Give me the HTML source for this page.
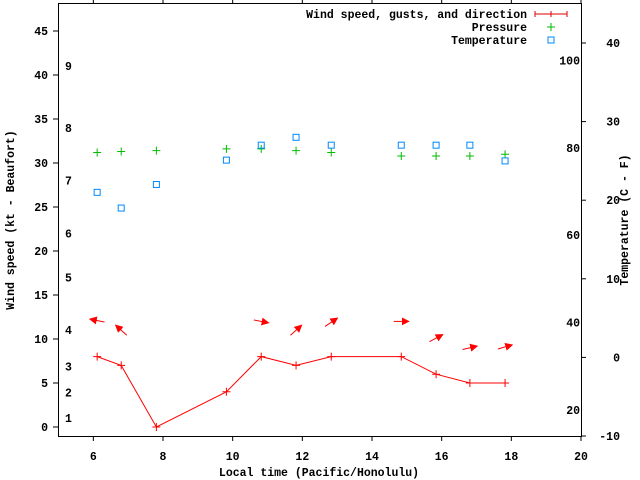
<!DOCTYPE html>
<html><head><meta charset="utf-8"><style>
html,body{margin:0;padding:0;background:#fff}
svg{display:block;font-family:"Liberation Mono",monospace;font-size:11.5px;font-weight:bold}
</style></head><body>
<svg id="chart" width="640" height="480">
<defs><marker id="ah" markerWidth="8" markerHeight="8" refX="7" refY="4" orient="auto" markerUnits="userSpaceOnUse"><path d="M0,0 L8,4 L0,8 Z" fill="#f00"/></marker></defs>
<rect x="58.5" y="3.5" width="523" height="433" fill="none" stroke="#000"/>
<g id="axes"></g>
<g id="marks"></g>
<text x="14" y="220" text-anchor="middle" transform="rotate(-90 14 220)">Wind speed (kt - Beaufort)</text>
<text x="628" y="220" text-anchor="middle" transform="rotate(-90 628 220)">Temperature (C - F)</text>
<text x="319" y="476" text-anchor="middle">Local time (Pacific/Honolulu)</text>
<g>
<text x="527" y="18" text-anchor="end">Wind speed, gusts, and direction</text>
<path d="M535,14 H567 M535,11 V17 M567,11 V17 M551,11 V17" stroke="#d00"/>
<text x="527" y="31" text-anchor="end">Pressure</text>
<path d="M547,27 H555 M551,23 V31" stroke="#0b0"/>
<text x="527" y="44" text-anchor="end">Temperature</text>
<rect x="548" y="37" width="6" height="6" fill="none" stroke="#08f"/>
</g>
</svg>
<script>
const times=[6.11,6.80,7.81,9.82,10.82,11.82,12.83,14.84,15.84,16.81,17.82];
const wind=[8,7,0,4,8,7,8,8,6,5,5];
const gusts=[12.1,11.0,null,null,12.0,11.0,11.9,12.0,10.1,9.0,9.1];
const direction=[169,138,null,null,-11,42,34,0,28,13,16];
const pressure=[31.2,31.3,31.4,31.6,31.6,31.4,31.2,30.8,30.8,30.8,31.0];
const temperature=[21.0,19.0,22.0,25.1,27.0,28.0,27.0,27.0,27.0,27.0,25.0];
const xTicks=[6,8,10,12,14,16,18,20];
const yTicks=[0,5,10,15,20,25,30,35,40,45];
const y2Ticks=[-10,0,10,20,30,40];
const beaufort=[[1,1],[2,3.9],[3,6.9],[4,11],[5,17],[6,22],[7,28],[8,34],[9,41]];
const fahr=[20,40,60,80,100];
const NS="http://www.w3.org/2000/svg";
const X=t=>58.5+(t-5)*(522.5/15);
const Y=v=>427-v*8.8;
const Y2=c=>436-(c+10)*7.86;
const axes=document.getElementById('axes'),marks=document.getElementById('marks');
function mk(tag,attrs,parent,txt){const e=document.createElementNS(NS,tag);for(const k in attrs)e.setAttribute(k,attrs[k]);if(txt!==undefined)e.textContent=txt;parent.appendChild(e);return e;}
xTicks.forEach(t=>{
 const l=mk('path',{d:`M${X(t)},436 V441 M${X(t)},3 V-2`,stroke:'#000'},axes);
 
 
 const s=mk('text',{x:X(t),y:460,'text-anchor':'middle'},axes,String(t));
 
 
});
yTicks.forEach(v=>{
 const l=mk('path',{d:`M53,${Y(v)} H58`,stroke:'#000'},axes);
 
 
 const s=mk('text',{x:48,y:Y(v)+4,'text-anchor':'end'},axes,String(v));
 
 
});
y2Ticks.forEach(v=>{
 const l=mk('path',{d:`M581,${Y2(v)} H586`,stroke:'#000'},axes);
 
 
 const s=mk('text',{x:620,y:Y2(v)+4,'text-anchor':'end'},axes,String(v));
 
 
});
beaufort.forEach(b=>{
 const s=mk('text',{x:65,y:Y(b[1])+4},axes,String(b[0]));
 
 
});
fahr.forEach(f=>{
 const s=mk('text',{x:580,y:Y2((f-32)*5/9)+4,'text-anchor':'end'},axes,String(f));
 
 
});
const line=mk('polyline',{points:times.map((t,i)=>X(t)+','+Y(wind[i])).join(' '),fill:'none',stroke:'#f00'},marks);


times.forEach((t,i)=>{
 const x=X(t),y=Y(wind[i]);
 const p=mk('path',{d:`M${x-4},${y} H${x+4} M${x},${y-4} V${y+4}`,stroke:'#f00'},marks);
 
 
 const yp=Y(pressure[i]);
 const g=mk('path',{d:`M${x-4},${yp} H${x+4} M${x},${yp-4} V${yp+4}`,stroke:'#0b0'},marks);
 
 
 const yt=Y2(temperature[i]);
 const r=mk('rect',{x:x-3,y:yt-3,width:6,height:6,fill:'none',stroke:'#08f'},marks);
 
 
 if(gusts[i]!==null){
  const a=direction[i]*Math.PI/180,cy=Y(gusts[i]),dx=7.5*Math.cos(a),dy=-7.5*Math.sin(a);
  const ar=mk('line',{x1:x-dx,y1:cy-dy,x2:x+dx,y2:cy+dy,stroke:'#f00','marker-end':'url(#ah)'},marks);
  
  
 }
});
</script>
</body></html>
